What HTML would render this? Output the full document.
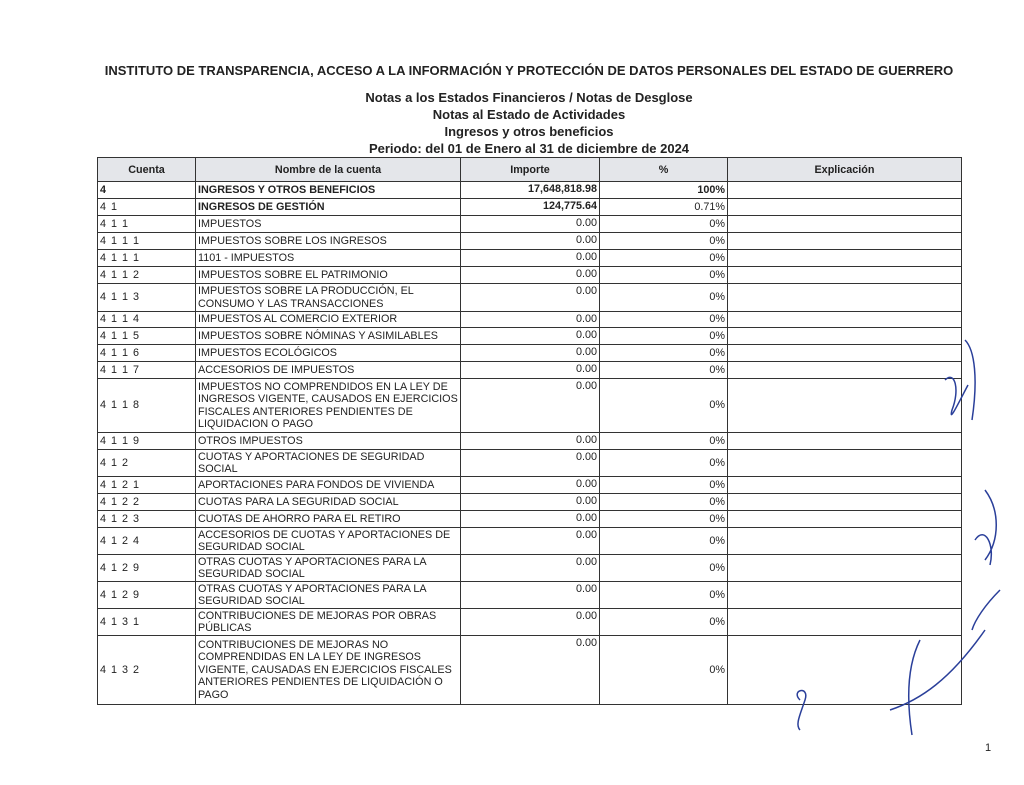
<!DOCTYPE html>
<html><head><meta charset="utf-8"><style>
body{margin:0;width:1024px;height:785px;background:#fff;position:relative;overflow:hidden;font-family:"Liberation Sans",Arial,sans-serif;color:#222}
.t{position:absolute;left:0;width:1024px;text-align:center;font-weight:bold;font-size:13px}
table{position:absolute;left:97px;top:157px;border-collapse:collapse;table-layout:fixed;font-size:10.8px}
td{border:1px solid #333;padding:0 2px;line-height:12.5px;overflow:hidden;white-space:normal}
th{border:1px solid #333;background:#e4e6ea;font-weight:bold;font-size:10.8px;height:21px}
td.c{letter-spacing:1px;vertical-align:middle}
td.n{vertical-align:middle}
td.i{text-align:right;vertical-align:top;padding-top:1px}
td.p{text-align:right;vertical-align:middle}
tr.b td{font-weight:bold}
</style></head><body>
<div class="t" style="top:63px;left:17px;font-size:13px">INSTITUTO DE TRANSPARENCIA, ACCESO A LA INFORMACIÓN Y PROTECCIÓN DE DATOS PERSONALES DEL ESTADO DE GUERRERO</div>
<div class="t" style="top:90px;left:17px">Notas a los Estados Financieros / Notas de Desglose</div>
<div class="t" style="top:107px;left:17px">Notas al Estado de Actividades</div>
<div class="t" style="top:124px;left:17px">Ingresos y otros beneficios</div>
<div class="t" style="top:141px;left:17px">Periodo: del 01 de Enero al 31 de diciembre de 2024</div>
<table>
<colgroup><col style="width:98px"><col style="width:265px"><col style="width:139px"><col style="width:128px"><col style="width:234px"></colgroup>
<tr><th>Cuenta</th><th>Nombre de la cuenta</th><th>Importe</th><th>%</th><th>Explicación</th></tr>
<tr class="b" style="height:17px"><td class="c">4</td><td class="n">INGRESOS Y OTROS BENEFICIOS</td><td class="i">17,648,818.98</td><td class="p">100%</td><td></td></tr>
<tr style="height:17px"><td class="c">4 1</td><td class="n"><b>INGRESOS DE GESTIÓN</b></td><td class="i"><b>124,775.64</b></td><td class="p">0.71%</td><td></td></tr>
<tr style="height:17px"><td class="c">4 1 1</td><td class="n">IMPUESTOS</td><td class="i">0.00</td><td class="p">0%</td><td></td></tr>
<tr style="height:17px"><td class="c">4 1 1 1</td><td class="n">IMPUESTOS SOBRE LOS INGRESOS</td><td class="i">0.00</td><td class="p">0%</td><td></td></tr>
<tr style="height:17px"><td class="c">4 1 1 1</td><td class="n">1101 - IMPUESTOS</td><td class="i">0.00</td><td class="p">0%</td><td></td></tr>
<tr style="height:17px"><td class="c">4 1 1 2</td><td class="n">IMPUESTOS SOBRE EL PATRIMONIO</td><td class="i">0.00</td><td class="p">0%</td><td></td></tr>
<tr style="height:28px"><td class="c">4 1 1 3</td><td class="n">IMPUESTOS SOBRE LA PRODUCCIÓN, EL<br>CONSUMO Y LAS TRANSACCIONES</td><td class="i">0.00</td><td class="p">0%</td><td></td></tr>
<tr style="height:16px"><td class="c">4 1 1 4</td><td class="n">IMPUESTOS AL COMERCIO EXTERIOR</td><td class="i">0.00</td><td class="p">0%</td><td></td></tr>
<tr style="height:17px"><td class="c">4 1 1 5</td><td class="n">IMPUESTOS SOBRE NÓMINAS Y ASIMILABLES</td><td class="i">0.00</td><td class="p">0%</td><td></td></tr>
<tr style="height:17px"><td class="c">4 1 1 6</td><td class="n">IMPUESTOS ECOLÓGICOS</td><td class="i">0.00</td><td class="p">0%</td><td></td></tr>
<tr style="height:17px"><td class="c">4 1 1 7</td><td class="n">ACCESORIOS DE IMPUESTOS</td><td class="i">0.00</td><td class="p">0%</td><td></td></tr>
<tr style="height:54px"><td class="c">4 1 1 8</td><td class="n">IMPUESTOS NO COMPRENDIDOS EN LA LEY DE<br>INGRESOS VIGENTE, CAUSADOS EN EJERCICIOS<br>FISCALES ANTERIORES PENDIENTES DE<br>LIQUIDACION O PAGO</td><td class="i">0.00</td><td class="p">0%</td><td></td></tr>
<tr style="height:17px"><td class="c">4 1 1 9</td><td class="n">OTROS IMPUESTOS</td><td class="i">0.00</td><td class="p">0%</td><td></td></tr>
<tr style="height:27px"><td class="c">4 1 2</td><td class="n">CUOTAS Y APORTACIONES DE SEGURIDAD<br>SOCIAL</td><td class="i">0.00</td><td class="p">0%</td><td></td></tr>
<tr style="height:17px"><td class="c">4 1 2 1</td><td class="n">APORTACIONES PARA FONDOS DE VIVIENDA</td><td class="i">0.00</td><td class="p">0%</td><td></td></tr>
<tr style="height:17px"><td class="c">4 1 2 2</td><td class="n">CUOTAS PARA LA SEGURIDAD SOCIAL</td><td class="i">0.00</td><td class="p">0%</td><td></td></tr>
<tr style="height:17px"><td class="c">4 1 2 3</td><td class="n">CUOTAS DE AHORRO PARA EL RETIRO</td><td class="i">0.00</td><td class="p">0%</td><td></td></tr>
<tr style="height:27px"><td class="c">4 1 2 4</td><td class="n">ACCESORIOS DE CUOTAS Y APORTACIONES DE<br>SEGURIDAD SOCIAL</td><td class="i">0.00</td><td class="p">0%</td><td></td></tr>
<tr style="height:27px"><td class="c">4 1 2 9</td><td class="n">OTRAS CUOTAS Y APORTACIONES PARA LA<br>SEGURIDAD SOCIAL</td><td class="i">0.00</td><td class="p">0%</td><td></td></tr>
<tr style="height:27px"><td class="c">4 1 2 9</td><td class="n">OTRAS CUOTAS Y APORTACIONES PARA LA<br>SEGURIDAD SOCIAL</td><td class="i">0.00</td><td class="p">0%</td><td></td></tr>
<tr style="height:27px"><td class="c">4 1 3 1</td><td class="n">CONTRIBUCIONES DE MEJORAS POR OBRAS<br>PÚBLICAS</td><td class="i">0.00</td><td class="p">0%</td><td></td></tr>
<tr style="height:69px"><td class="c">4 1 3 2</td><td class="n">CONTRIBUCIONES DE MEJORAS NO<br>COMPRENDIDAS EN LA LEY DE INGRESOS<br>VIGENTE, CAUSADAS EN EJERCICIOS FISCALES<br>ANTERIORES PENDIENTES DE LIQUIDACIÓN O<br>PAGO</td><td class="i">0.00</td><td class="p">0%</td><td></td></tr>
</table>
<svg style="position:absolute;left:0;top:0" width="1024" height="785">
<g fill="none" stroke="#2a3f9a" stroke-width="1.5">
<path d="M965 340 C975 350 978 380 972 420 M945 380 C955 370 960 390 952 410 C948 425 960 400 968 385"/>
<path d="M985 490 C1000 510 1000 540 985 560 M975 540 C985 525 995 545 990 565"/>
<path d="M1000 590 C985 605 975 620 972 630"/>
<path d="M920 640 C910 660 905 690 912 735 M890 710 C920 700 950 680 985 630"/>
<path d="M800 700 C790 690 810 685 805 700 C800 715 795 725 800 730"/>
</g>
</svg>
<div style="position:absolute;left:985px;top:742px;font-size:11px">1</div>
</body></html>
